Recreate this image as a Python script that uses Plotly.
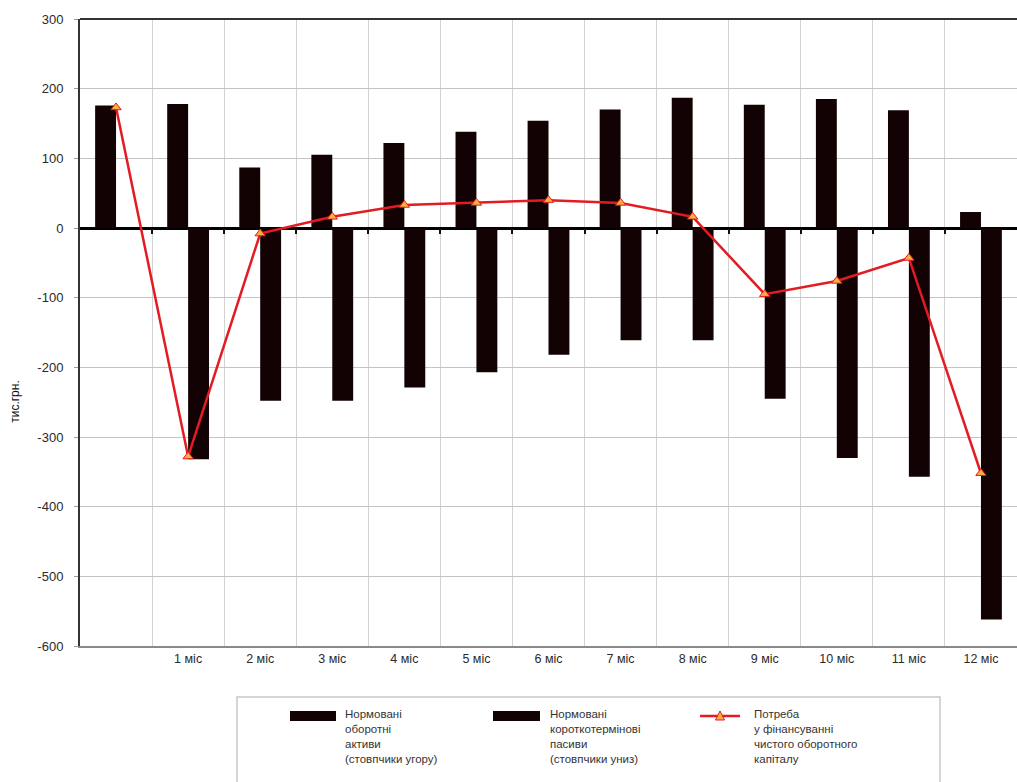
import plotly.graph_objects as go

# Місяці планового періоду (перша група — початковий стан, без підпису)
categories = ["", "1 міс", "2 міс", "3 міс", "4 міс", "5 міс", "6 міс",
              "7 міс", "8 міс", "9 міс", "10 міс", "11 міс", "12 міс"]

# Нормовані оборотні активи, тис. грн (стовпчики угору)
current_assets = [176, 178, 87, 105, 122, 138, 154, 170, 187, 177, 185, 169, 23]

# Нормовані короткотермінові пасиви, тис. грн (стовпчики униз)
current_liabilities = [None, -332, -248, -248, -229, -207, -182, -161, -161,
                       -245, -330, -357, -562]

# Потреба у фінансуванні чистого оборотного капіталу, тис. грн
working_capital_need = [173, -328, -8, 16, 33, 36, 40, 36, 16, -95, -76, -43, -352]

y_ticks = [300, 200, 100, 0, -100, -200, -300, -400, -500, -600]
y_min, y_max = -600, 300

BAR_COLOR = "#120203"
LINE_COLOR = "#e31b23"
MARKER_FILL = "#f7b040"
TEXT_COLOR = "#2a2a2a"
FONT = "Liberation Sans, Arial, sans-serif"

x_pos = list(range(len(categories)))
boundaries = [i + 0.5 for i in range(len(categories) - 1)]

fig = go.Figure()

fig.add_trace(go.Bar(
    x=x_pos, y=current_assets, name="Нормовані оборотні активи",
    marker=dict(color=BAR_COLOR, line=dict(width=0)), showlegend=False,
))
fig.add_trace(go.Bar(
    x=x_pos, y=current_liabilities, name="Нормовані короткотермінові пасиви",
    marker=dict(color=BAR_COLOR, line=dict(width=0)), showlegend=False,
))
fig.add_trace(go.Scatter(
    x=x_pos, y=working_capital_need, mode="lines+markers",
    name="Потреба у фінансуванні чистого оборотного капіталу",
    line=dict(color=LINE_COLOR, width=2.5),
    marker=dict(symbol="triangle-up", size=9, color=MARKER_FILL,
                line=dict(color=LINE_COLOR, width=1)),
    showlegend=False,
))
# прихована допоміжна серія, щоб вісь x2 (поділки на нулі) була відмальована
fig.add_trace(go.Scatter(
    x=boundaries, y=[0] * len(boundaries), xaxis="x2", mode="markers",
    marker=dict(opacity=0), hoverinfo="skip", showlegend=False,
))

fig.update_layout(
    width=1017, height=782,
    margin=dict(l=80, r=0, t=19, b=136),
    paper_bgcolor="white", plot_bgcolor="white",
    barmode="group", bargap=0.42, bargroupgap=0,
    font=dict(family=FONT, color=TEXT_COLOR),
)

fig.update_xaxes(
    range=[-0.5, len(categories) - 0.5],
    tickmode="array", tickvals=x_pos, ticktext=categories,
    tickfont=dict(size=12.5, color=TEXT_COLOR),
    showgrid=False, zeroline=False, ticks="",
    showline=True, linecolor="#8a8a8a", linewidth=2,
    minor=dict(tickmode="array", tickvals=boundaries, showgrid=True,
               gridcolor="#d2d2d2", gridwidth=1, ticks=""),
    fixedrange=True,
)

# Поділки між групами на нульовій лінії — окрема вісь, закріплена на рівні 0
fig.update_layout(xaxis2=dict(
    overlaying="x", anchor="free",
    range=[-0.5, len(categories) - 0.5],
    position=(0 - y_min) / (y_max - y_min), side="bottom",
    tickmode="array", tickvals=boundaries, ticks="outside", ticklen=5,
    tickwidth=2, tickcolor="#111111", showticklabels=False,
    showgrid=False, zeroline=False, showline=False, fixedrange=True,
))

fig.update_yaxes(
    range=[y_min, y_max],
    tickmode="array", tickvals=y_ticks, ticktext=[str(v) for v in y_ticks],
    tickfont=dict(size=13, color=TEXT_COLOR),
    ticks="outside", ticklen=4, tickcolor="#9a9a9a",
    ticklabelstandoff=8,
    showgrid=True, gridcolor="#c4c4c4", gridwidth=1,
    zeroline=True, zerolinecolor="#000000", zerolinewidth=3,
    showline=True, linecolor="#333333", linewidth=2,
    fixedrange=True,
)

shapes = [
    # верхня межа області побудови
    dict(type="line", xref="paper", yref="paper", x0=0, x1=1, y0=1, y1=1,
         line=dict(color="#333333", width=2)),
]
annotations = [
    dict(text="тис.грн.", xref="paper", yref="paper", x=-0.069, y=0.39,
         textangle=-90, showarrow=False, xanchor="center", yanchor="middle",
         font=dict(size=12, color="#111111")),
]

# Легенда: рамка, символи та підписи (координати в частках області побудови)
plot_w, plot_h, plot_l, plot_b = 937.0, 627.0, 80.0, 646.0


def px_x(v):
    return (v - plot_l) / plot_w


def px_y(v):
    return (plot_b - v) / plot_h


shapes.append(dict(type="rect", xref="paper", yref="paper",
                   x0=px_x(237), x1=px_x(940), y0=px_y(697), y1=px_y(800),
                   line=dict(color="#c8c8c8", width=1.5), fillcolor="white",
                   layer="below"))

legend_items = [
    ("bar", 290, 336, 343,
     "Нормовані<br>оборотні<br>активи<br>(стовпчики угору)"),
    ("bar", 493, 540, 548,
     "Нормовані<br>короткотермінові<br>пасиви<br>(стовпчики униз)"),
    ("line", 700, 740, 752,
     "Потреба<br>у фінансуванні<br>чистого оборотного<br>капіталу"),
]
for kind, sx0, sx1, tx, label in legend_items:
    if kind == "bar":
        shapes.append(dict(type="rect", xref="paper", yref="paper",
                           x0=px_x(sx0), x1=px_x(sx1),
                           y0=px_y(711), y1=px_y(721),
                           line=dict(width=0), fillcolor=BAR_COLOR))
    else:
        shapes.append(dict(type="line", xref="paper", yref="paper",
                           x0=px_x(sx0), x1=px_x(sx1),
                           y0=px_y(716), y1=px_y(716),
                           line=dict(color=LINE_COLOR, width=2.5)))
        cx = (sx0 + sx1) / 2
        shapes.append(dict(
            type="path", xref="paper", yref="paper",
            path=(f"M {px_x(cx - 4.5)} {px_y(720)} L {px_x(cx + 4.5)} {px_y(720)} "
                  f"L {px_x(cx)} {px_y(711)} Z"),
            fillcolor=MARKER_FILL, line=dict(color=LINE_COLOR, width=1)))
    annotations.append(dict(
        text=label, xref="paper", yref="paper", x=px_x(tx), y=px_y(706),
        xanchor="left", yanchor="top", align="left", showarrow=False,
        font=dict(size=11.5, color="#333333"),
    ))

fig.update_layout(shapes=shapes, annotations=annotations)

fig.write_html("out.html")
